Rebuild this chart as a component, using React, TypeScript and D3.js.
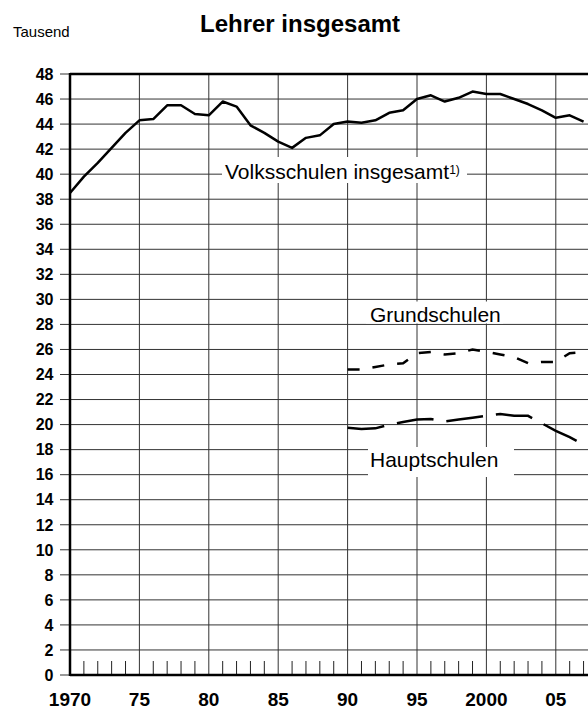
import React, { useRef, useEffect } from 'react';
import * as d3 from 'd3';

// Lehrer (Tausend)
const yearsAll = [
  1970, 1971, 1972, 1973, 1974, 1975, 1976, 1977, 1978, 1979,
  1980, 1981, 1982, 1983, 1984, 1985, 1986, 1987, 1988, 1989,
  1990, 1991, 1992, 1993, 1994, 1995, 1996, 1997, 1998, 1999,
  2000, 2001, 2002, 2003, 2004, 2005, 2006, 2007,
];
const volksschulen = [
  38.5, 39.8, 40.9, 42.1, 43.3, 44.3, 44.4, 45.5, 45.5, 44.8,
  44.7, 45.8, 45.4, 43.9, 43.3, 42.6, 42.1, 42.9, 43.1, 44.0,
  44.2, 44.1, 44.3, 44.9, 45.1, 46.0, 46.3, 45.8, 46.1, 46.6,
  46.4, 46.4, 46.0, 45.6, 45.1, 44.5, 44.7, 44.2,
];
const yearsSchool = [
  1990, 1991, 1992, 1993, 1994, 1995, 1996, 1997, 1998, 1999,
  2000, 2001, 2002, 2003, 2004, 2005, 2006, 2007,
];
const grundschulen = [
  24.4, 24.4, 24.6, 24.8, 24.9, 25.7, 25.8, 25.6, 25.7, 26.0,
  25.8, 25.6, 25.4, 24.9, 25.0, 25.0, 25.7, 25.8,
];
const hauptschulen = [
  19.75, 19.65, 19.7, 20.0, 20.2, 20.4, 20.45, 20.25, 20.4, 20.55,
  20.7, 20.85, 20.7, 20.7, 20.1, 19.5, 19.0, 18.4,
];
const yTicks = [0, 2, 4, 6, 8, 10, 12, 14, 16, 18, 20, 22, 24, 26, 28, 30, 32, 34, 36, 38, 40, 42, 44, 46, 48];
const xMajor = [1970, 1975, 1980, 1985, 1990, 1995, 2000, 2005];
const xLabels = ['1970', '75', '80', '85', '90', '95', '2000', '05'];

const App: React.FC = () => {
  const svgRef = useRef<SVGSVGElement>(null);

  useEffect(() => {
    if (!svgRef.current) return;
    const width = 588;
    const height = 711;
    const svg = d3.select(svgRef.current);
    svg.selectAll('*').remove();

    const left = 70;
    const top = 74;
    const bottom = 675;

    const x = d3.scaleLinear().domain([1970, 2005]).range([left, 555.8]);
    const y = d3.scaleLinear().domain([0, 48]).range([bottom, top]);
    const xEnd = x(2009);
    const font = 'Arial, "Liberation Sans", Helvetica, sans-serif';

    // horizontal grid
    svg.append('g')
      .selectAll('line')
      .data(yTicks.filter(d => d > 0 && d < 48))
      .join('line')
      .attr('x1', left)
      .attr('x2', xEnd)
      .attr('y1', d => y(d))
      .attr('y2', d => y(d))
      .attr('stroke', '#333')
      .attr('stroke-width', 1);

    // vertical grid
    svg.append('g')
      .selectAll('line')
      .data(xMajor.filter(d => d > 1970))
      .join('line')
      .attr('x1', d => x(d))
      .attr('x2', d => x(d))
      .attr('y1', top)
      .attr('y2', bottom)
      .attr('stroke', '#333')
      .attr('stroke-width', 1);

    // minor year ticks along the bottom
    const minor = d3.range(1971, 2009).filter(d => d % 5 !== 0);
    svg.append('g')
      .selectAll('line')
      .data(minor)
      .join('line')
      .attr('x1', d => x(d))
      .attr('x2', d => x(d))
      .attr('y1', bottom - 14)
      .attr('y2', bottom)
      .attr('stroke', '#222')
      .attr('stroke-width', 1);

    // y tick marks + labels
    const yAxis = svg.append('g');
    yTicks.forEach(t => {
      yAxis.append('line')
        .attr('x1', left - 10)
        .attr('x2', left)
        .attr('y1', y(t))
        .attr('y2', y(t))
        .attr('stroke', '#333')
        .attr('stroke-width', 1);
      yAxis.append('text')
        .attr('x', 53.5)
        .attr('y', y(t))
        .attr('dy', '0.36em')
        .attr('text-anchor', 'end')
        .attr('font-family', font)
        .attr('font-weight', 'bold')
        .attr('font-size', 16)
        .attr('fill', '#000')
        .text(t);
    });

    // x labels
    svg.append('g')
      .selectAll('text')
      .data(xMajor)
      .join('text')
      .attr('x', d => x(d))
      .attr('y', 706)
      .attr('text-anchor', 'middle')
      .attr('font-family', font)
      .attr('font-weight', 'bold')
      .attr('font-size', 19)
      .attr('fill', '#000')
      .text((d, i) => xLabels[i]);

    // frame: top, left, bottom
    svg.append('line')
      .attr('x1', left).attr('x2', xEnd)
      .attr('y1', top).attr('y2', top)
      .attr('stroke', '#000').attr('stroke-width', 2.5);
    svg.append('line')
      .attr('x1', left).attr('x2', left)
      .attr('y1', top - 1).attr('y2', bottom + 1)
      .attr('stroke', '#000').attr('stroke-width', 2.5);
    svg.append('line')
      .attr('x1', left).attr('x2', xEnd)
      .attr('y1', bottom).attr('y2', bottom)
      .attr('stroke', '#000').attr('stroke-width', 2.5);

    // label boxes (white, hide the grid behind the labels)
    const boxes = [
      { x0: 222, x1: 467, y0: 157, y1: 183 },
      { x0: 366, x1: 503, y0: 301.5, y1: 323.5 },
      { x0: 368, x1: 514, y0: 447, y1: 477 },
    ];
    svg.append('g')
      .selectAll('rect')
      .data(boxes)
      .join('rect')
      .attr('x', d => d.x0)
      .attr('y', d => d.y0)
      .attr('width', d => d.x1 - d.x0)
      .attr('height', d => d.y1 - d.y0)
      .attr('fill', '#fff');

    const line = d3.line<[number, number]>()
      .x(d => x(d[0]))
      .y(d => y(d[1]));

    svg.append('path')
      .datum(yearsAll.map((yr, i) => [yr, volksschulen[i]] as [number, number]))
      .attr('fill', 'none')
      .attr('stroke', '#000')
      .attr('stroke-width', 2.5)
      .attr('stroke-linejoin', 'round')
      .attr('d', line);

    svg.append('path')
      .datum(yearsSchool.map((yr, i) => [yr, grundschulen[i]] as [number, number]))
      .attr('fill', 'none')
      .attr('stroke', '#000')
      .attr('stroke-width', 2.5)
      .attr('stroke-dasharray', '12,13')
      .attr('d', line);

    svg.append('path')
      .datum(yearsSchool.map((yr, i) => [yr, hauptschulen[i]] as [number, number]))
      .attr('fill', 'none')
      .attr('stroke', '#000')
      .attr('stroke-width', 2.5)
      .attr('stroke-dasharray', '37,13')
      .attr('d', line);

    // series labels
    const vLabel = svg.append('text')
      .attr('x', 225)
      .attr('y', 179)
      .attr('font-family', font)
      .attr('font-size', 21)
      .attr('fill', '#000');
    vLabel.append('tspan').text('Volksschulen insgesamt');
    vLabel.append('tspan')
      .attr('font-size', 12)
      .attr('dy', -5)
      .text('1)');

    svg.append('text')
      .attr('x', 370)
      .attr('y', 322)
      .attr('font-family', font)
      .attr('font-size', 21)
      .attr('fill', '#000')
      .text('Grundschulen');

    svg.append('text')
      .attr('x', 370)
      .attr('y', 467)
      .attr('font-family', font)
      .attr('font-size', 21)
      .attr('fill', '#000')
      .text('Hauptschulen');

    // title + unit
    svg.append('text')
      .attr('x', 200)
      .attr('y', 32)
      .attr('font-family', font)
      .attr('font-weight', 'bold')
      .attr('font-size', 24)
      .attr('fill', '#000')
      .text('Lehrer insgesamt');

    svg.append('text')
      .attr('x', 13)
      .attr('y', 37)
      .attr('font-family', font)
      .attr('font-size', 15)
      .attr('fill', '#000')
      .text('Tausend');

    svg.attr('width', width).attr('height', height);
  }, []);

  return (
    <div style={{ position: 'absolute', left: 0, top: 0, width: 588, height: 711, overflow: 'hidden', background: '#fff' }}>
      <svg ref={svgRef} width={588} height={711} style={{ display: 'block' }} />
    </div>
  );
};

export default App;
